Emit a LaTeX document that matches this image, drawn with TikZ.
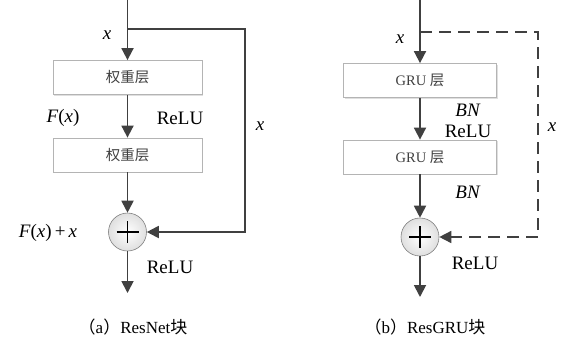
\documentclass[tikz,border=0pt]{standalone}
\usepackage{fontspec}
\setmainfont{Liberation Serif}
\newfontfamily\cjk{Noto Sans CJK SC}
\usetikzlibrary{arrows.meta,shadows}
\definecolor{ln}{HTML}{404040}
\definecolor{bx}{HTML}{B4B4B4}
\tikzset{
  flow/.style={draw=ln, line width=1.8pt, -{Triangle[length=12pt,width=12pt]}},
  layerbox/.style={draw=bx, line width=0.8pt, fill=white, minimum height=34pt,
    inner sep=0pt, font=\fontsize{14.5}{16}\selectfont, text=ln,
    drop shadow={shadow xshift=1pt, shadow yshift=-1pt, opacity=0.25, fill=gray}},
  addnode/.style={circle, draw=gray, line width=0.6pt, minimum size=38pt, inner sep=0pt,
    inner color=white, outer color=gray!25},
  lbl/.style={font=\fontsize{19}{21}\selectfont, text=black, inner sep=0pt},
  captext/.style={font=\fontsize{17}{19}\selectfont, text=black, inner sep=0pt},
  dashline/.style={line width=1.5pt, dash pattern=on 12pt off 7pt}
}
\begin{document}
\begin{tikzpicture}[x=1pt,y=-1pt]
\useasboundingbox[fill=white] (0,0) rectangle (569,343);
% ---------- left: ResNet ----------
\coordinate (lt) at (127.5,0);
\coordinate (lb) at (127.5,29);
\coordinate (lr) at (245,29);
\coordinate (lrd) at (245,232);
\coordinate (lend) at (127.5,293);
\node[layerbox, minimum width=149pt] (l1) at (127.5,77.5) {\cjk 权重层};
\node[layerbox, minimum width=149pt] (l2) at (127.5,155) {\cjk 权重层};
\node[addnode] (la) at (127.5,232) {};
\draw[black, line width=1.4pt] ([xshift=-11pt]la.center) -- ([xshift=11pt]la.center)
  ([yshift=-11pt]la.center) -- ([yshift=11pt]la.center);
\draw[flow] (lt) -- (l1.north);
\draw[flow] (l1.south) -- (l2.north);
\draw[flow] (l2.south) -- (la.north);
\draw[flow] (la.south) -- (lend);
\draw[flow] (lb) -- (lr) -- (lrd) -- (la.east);
\node[lbl] (lx) at (107,35) {\textit{x}};
\node[lbl] (lf) at (63,118) {\textit{F}(\textit{x})};
\node[lbl] (lr1) at (180,118) {ReLU};
\node[lbl] (lx2) at (260,126) {\textit{x}};
\node[lbl] (lfx) at (48,233) {\textit{F}(\textit{x})\,+\,\textit{x}};
\node[lbl] (lr2) at (170,267) {ReLU};
\node[captext] (lc) at (133,327) {{\cjk （}a{\cjk ）}ResNet{\cjk 块}};
% ---------- right: ResGRU ----------
\coordinate (rt) at (420,0);
\coordinate (rb) at (420,32);
\coordinate (rr) at (538,32);
\coordinate (rrd) at (538,237);
\coordinate (rend) at (420,297);
\node[layerbox, minimum width=153pt] (r1) at (420,80.5) {GRU {\cjk 层}};
\node[layerbox, minimum width=153pt] (r2) at (420,157) {GRU {\cjk 层}};
\node[addnode] (ra) at (420,237) {};
\draw[black, line width=1.4pt] ([xshift=-11pt]ra.center) -- ([xshift=11pt]ra.center)
  ([yshift=-11pt]ra.center) -- ([yshift=11pt]ra.center);
\draw[flow] (rt) -- (r1.north);
\draw[flow] (r1.south) -- (r2.north);
\draw[flow] (r2.south) -- (ra.north);
\draw[flow] (ra.south) -- (rend);
\draw[flow, dashline] (rb) -- (rr) -- (rrd) -- (ra.east);
\node[lbl] (rx) at (400,39) {\textit{x}};
\node[lbl] (rbn1) at (468,110) {\textit{BN}};
\node[lbl] (rre1) at (468,131) {ReLU};
\node[lbl] (rbn2) at (468,192) {\textit{BN}};
\node[lbl] (rx2) at (552,127) {\textit{x}};
\node[lbl] (rre2) at (475,263) {ReLU};
\node[captext] (rc) at (425,327) {{\cjk （}b{\cjk ）}ResGRU{\cjk 块}};
\end{tikzpicture}
\end{document}
